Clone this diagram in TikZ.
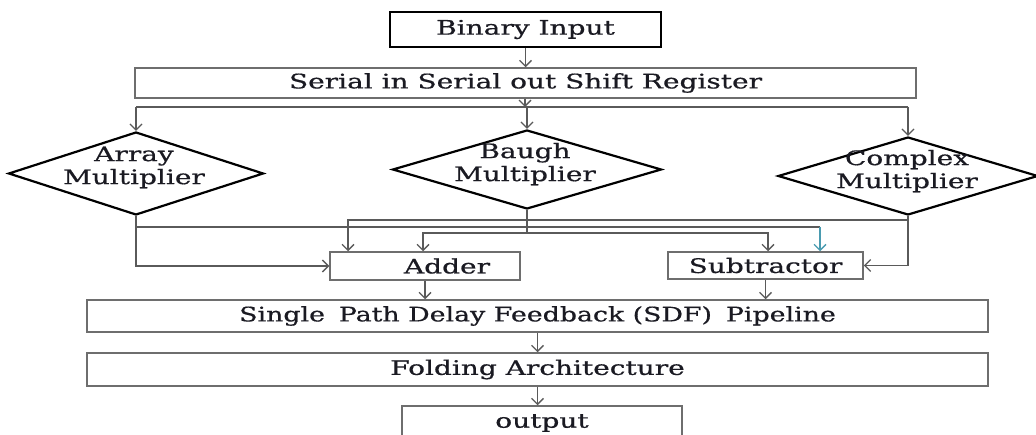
\documentclass[tikz,border=0pt]{standalone}
\usepackage{fontspec}
\setmainfont{DejaVu Serif}
\newfontfamily\tfam{DejaVu Serif}[FakeBold=0.6]
\usetikzlibrary{shapes.geometric,arrows.meta}
\definecolor{ln}{HTML}{5A5A5A}
\definecolor{bx}{HTML}{6E6E6E}
\definecolor{tl}{HTML}{4A9BB0}
\definecolor{tx}{HTML}{1A1A22}
\newcommand\stx[1]{\scalebox{1.4}[1]{#1}}
\newcommand\stxx[1]{\scalebox{1.4}[1]{\begin{tabular}{@{}c@{}}#1\end{tabular}}}
\begin{document}
\begin{tikzpicture}[x=1pt,y=-1pt,
  box/.style={draw=bx,line width=1.5pt,inner sep=0pt,rectangle,text=tx,font=\tfam\fontsize{20}{24}\selectfont},
  topbox/.style={draw=black,line width=2.6pt,inner sep=0pt,rectangle,text=tx,font=\tfam\fontsize{20}{24}\selectfont},
  dia/.style={draw=black,line width=2.2pt,diamond,inner sep=0pt},
  lbl/.style={inner sep=0pt,text=tx,font=\tfam\fontsize{20}{23}\selectfont},
  ln/.style={draw=ln,line width=1.3pt},
  arr/.style={ln,-{Straight Barb[length=6pt,width=12pt,line width=1.3pt]}}
]
\clip (0,0) rectangle (1036,435);
\useasboundingbox (0,0) rectangle (1036,435);

% boxes
\node[topbox,minimum width=271pt,minimum height=35pt] (bin) at (525.5,29.5) {\stx{Binary Input}};
\node[box,minimum width=781pt,minimum height=30pt] (sr) at (525.5,83) {\stx{Serial in Serial out Shift Register}};

% diamonds
\node[dia,minimum width=255pt,minimum height=83pt] (arr) at (136,173.5) {};
\node[dia,minimum width=269pt,minimum height=79pt] (bau) at (527,169.5) {};
\node[dia,minimum width=260pt,minimum height=78pt] (cpx) at (908,176) {};
\node[lbl] (tarr) at (134,168) {\stxx{Array\\Multiplier}};
\node[lbl] (tbau) at (525,165) {\stxx{Baugh\\Multiplier}};
\node[lbl] (tcpx) at (907,172) {\stxx{Complex\\Multiplier}};

\node[box,minimum width=190pt,minimum height=28pt] (add) at (425,266) {\hspace*{44pt}\stx{Adder}};
\node[box,minimum width=195pt,minimum height=27pt] (sub) at (765.5,265.5) {\stx{Subtractor}};
\node[box,minimum width=901pt,minimum height=32pt] (sdf) at (537.5,316) {\scalebox{1.34}[1]{Single\hspace{4pt} Path Delay Feedback (SDF)\hspace{4pt} Pipeline}};
\node[box,minimum width=901pt,minimum height=33pt] (fold) at (537.5,369.5) {\stx{Folding Architecture}};
\node[box,minimum width=280pt,minimum height=34pt] (out) at (542,423) {\stx{output}};

% helper coordinates
\coordinate (j1) at (525,107);
\coordinate (yc) at (0,220);
\coordinate (ya) at (0,227);
\coordinate (yb) at (0,233);
\coordinate (xa1) at (348,0);
\coordinate (xa2) at (423,0);
\coordinate (xs1) at (768,0);
\coordinate (xs2) at (820,0);

% connectors
\draw[arr] (bin.south) -- (bin.south |- sr.north);
\draw[arr] (sr.south -| j1) -- (j1);
\draw[ln] (arr.north |- j1) -- (cpx.north |- j1);
\draw[arr] (arr.north |- j1) -- (arr.north);
\draw[arr] (bau.north |- j1) -- (bau.north);
\draw[arr] (cpx.north |- j1) -- (cpx.north);

% array multiplier outputs
\draw[arr] (arr.south) -- (arr.south |- add.west) -- (add.west);
\draw[ln] (arr.south |- ya) -- (xs2 |- ya);
\draw[tl,line width=1.3pt,-{Straight Barb[length=6pt,width=12pt,line width=1.3pt]}] (xs2 |- ya) -- (xs2 |- sub.north);

% complex multiplier outputs
\draw[arr] (cpx.south) -- (cpx.south |- sub.east) -- (sub.east);
\draw[arr] (cpx.south |- yc) -- (xa1 |- yc) -- (xa1 |- add.north);

% baugh multiplier outputs
\draw[ln] (bau.south) -- (bau.south |- yb);
\draw[arr] (bau.south |- yb) -- (xa2 |- yb) -- (xa2 |- add.north);
\draw[arr] (bau.south |- yb) -- (xs1 |- yb) -- (xs1 |- sub.north);

% lower chain
\draw[arr] (add.south) -- (add.south |- sdf.north);
\draw[arr] (sub.south) -- (sub.south |- sdf.north);
\draw[arr] (sdf.south) -- (sdf.south |- fold.north);
\draw[arr] (fold.south) -- (fold.south |- out.north);
\end{tikzpicture}
\end{document}
